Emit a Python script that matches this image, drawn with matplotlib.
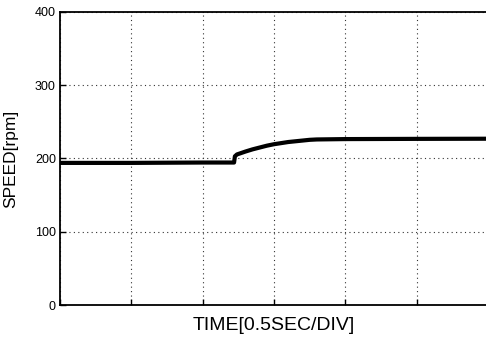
# speed response plot, 0.5 s per division
import numpy as np
import matplotlib.pyplot as plt

plt.rcParams['font.family'] = ['Liberation Sans', 'DejaVu Sans']

# time [s] and speed [rpm]
t = [0.0, 0.5, 1.0, 1.22, 1.226, 1.24, 1.27, 1.30, 1.35, 1.40, 1.45, 1.50,
     1.55, 1.60, 1.65, 1.70, 1.75, 1.80, 2.0, 2.5, 3.0]
speed = [194, 194, 194.5, 194.5, 203, 205.5, 207.5, 209.5, 212.5, 215, 217.5, 219.5,
         221, 222.5, 223.5, 224.5, 225.5, 226, 226.5, 226.8, 227]

xticks = np.arange(0, 3.01, 0.5)
yticks = [0, 100, 200, 300, 400]

fig = plt.figure(figsize=(4.86, 3.37), dpi=100)
ax = fig.add_axes([60/486, 32/337, 428/486, 293/337])

ax.plot(t, speed, color='black', lw=3, solid_capstyle='butt')

ax.set_xlim(0, 3)
ax.set_ylim(0, 400)
ax.set_xticks(xticks)
ax.set_xticklabels([])
ax.set_yticks(yticks)
ax.tick_params(direction='in', length=4, width=1, labelsize=9, pad=3)
ax.grid(True, color='#333333', linestyle=(0, (1, 3)), lw=0.8)
for s in ax.spines.values():
    s.set_linewidth(1.3)

ax.set_xlabel('TIME[0.5SEC/DIV]', fontsize=14, labelpad=6)
ax.set_ylabel('SPEED[rpm]', fontsize=12.5, labelpad=12)

fig.savefig('out.png', dpi=100)
